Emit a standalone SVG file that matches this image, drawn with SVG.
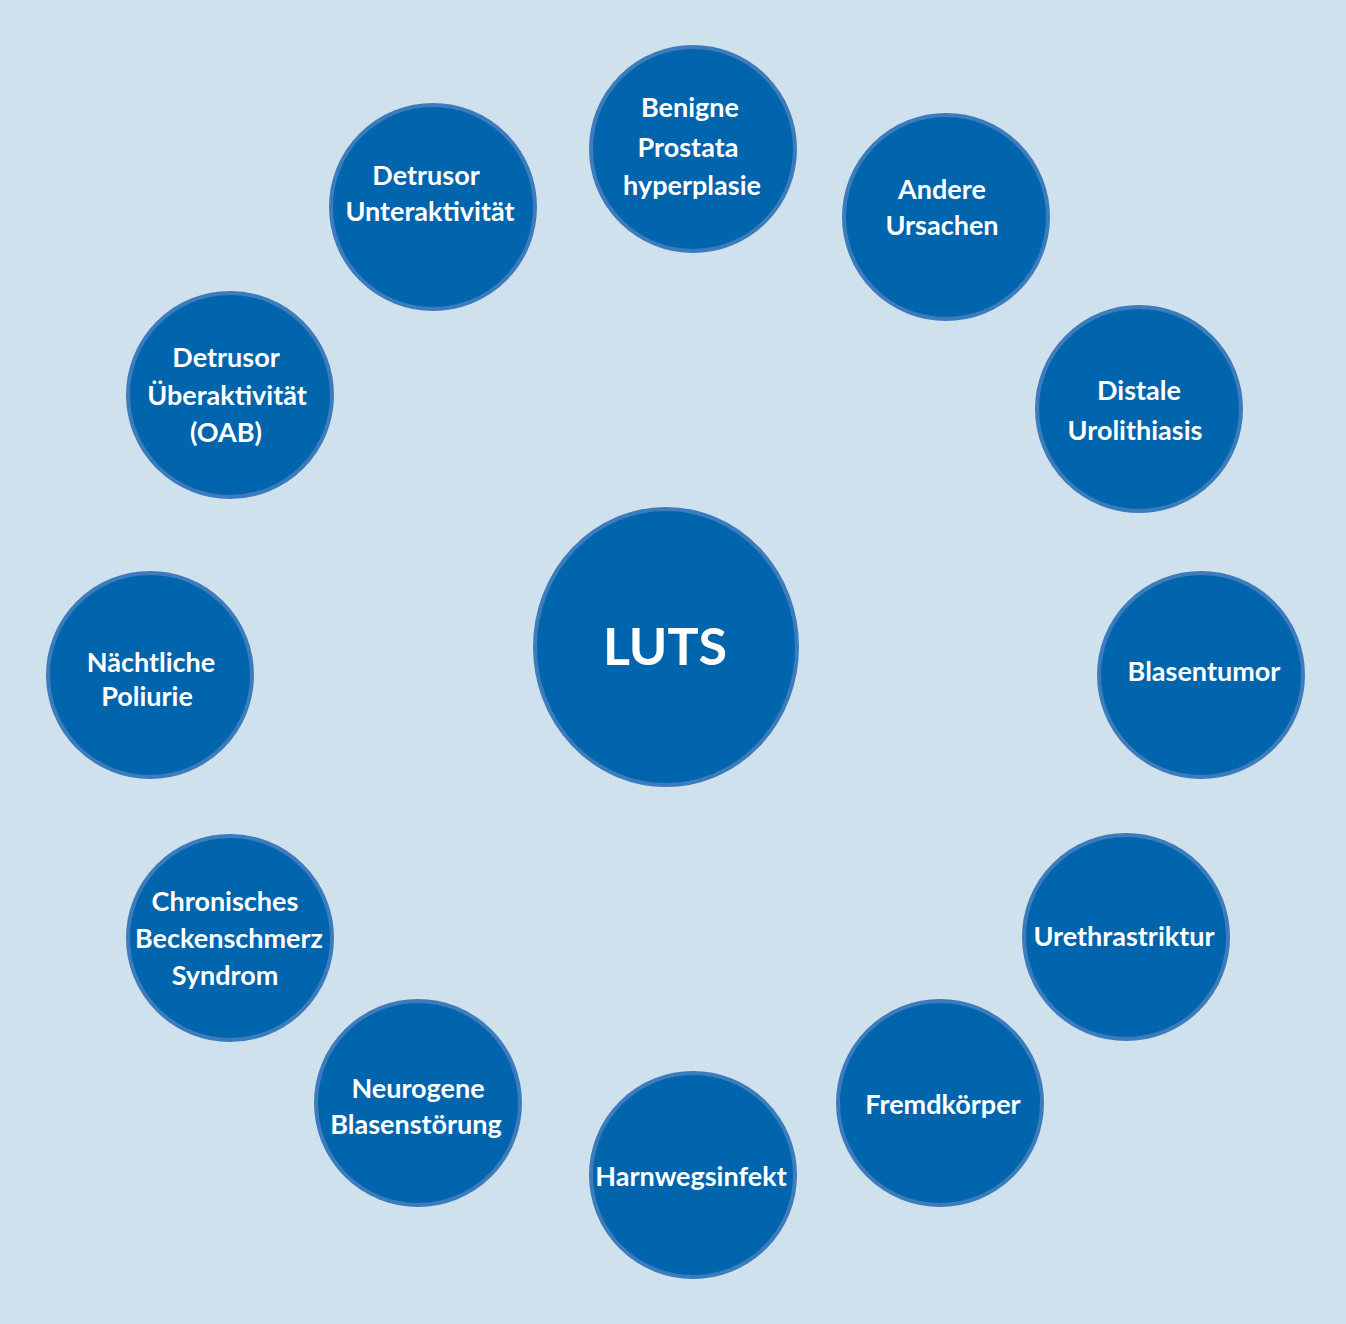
<svg xmlns="http://www.w3.org/2000/svg" width="1346" height="1324" viewBox="0 0 1346 1324">
<style>
.n{fill:#0065ad;stroke:#3d7cbc;stroke-width:4}
.t{fill:#ffffff;font-family:Lato,"Open Sans","Liberation Sans",sans-serif;font-weight:bold;font-size:27px;text-anchor:middle}
.big{font-size:52px}
</style>
<rect x="0" y="0" width="1346" height="1324" fill="#cfe1ed"/>
<g id="connectors"></g>
<g id="luts"><ellipse class="n" cx="666" cy="647" rx="131" ry="138"/><text class="t big" x="665" y="665">LUTS</text></g>
<g id="bph"><circle class="n" cx="693" cy="149" r="102"/><text class="t" x="690" y="117">Benigne</text><text class="t" x="688" y="157">Prostata</text><text class="t" x="692" y="195">hyperplasie</text></g>
<g id="andere"><circle class="n" cx="946" cy="217" r="102"/><text class="t" x="942" y="199">Andere</text><text class="t" x="942" y="235">Ursachen</text></g>
<g id="distale"><circle class="n" cx="1139" cy="409" r="102"/><text class="t" x="1139" y="400">Distale</text><text class="t" x="1135" y="440">Urolithiasis</text></g>
<g id="blasentumor"><circle class="n" cx="1201" cy="675" r="102"/><text class="t" x="1204" y="681">Blasentumor</text></g>
<g id="urethra"><circle class="n" cx="1126" cy="937" r="102"/><text class="t" x="1124" y="946">Urethrastriktur</text></g>
<g id="fremd"><circle class="n" cx="940" cy="1103" r="102"/><text class="t" x="943" y="1114">Fremdkörper</text></g>
<g id="harnweg"><circle class="n" cx="693" cy="1175" r="102"/><text class="t" x="691" y="1186">Harnwegsinfekt</text></g>
<g id="neurogen"><circle class="n" cx="418" cy="1103" r="102"/><text class="t" x="418" y="1098">Neurogene</text><text class="t" x="416" y="1134">Blasenstörung</text></g>
<g id="chronisch"><circle class="n" cx="230" cy="938" r="102"/><text class="t" x="225" y="911">Chronisches</text><text class="t" x="229" y="948">Beckenschmerz</text><text class="t" x="225" y="985">Syndrom</text></g>
<g id="naechtlich"><circle class="n" cx="150" cy="675" r="102"/><text class="t" x="151" y="672">Nächtliche</text><text class="t" x="147" y="706">Poliurie</text></g>
<g id="oab"><circle class="n" cx="230" cy="395" r="102"/><text class="t" x="226" y="367">Detrusor</text><text class="t" x="227" y="405">Überaktivität</text><text class="t" x="226" y="442">(OAB)</text></g>
<g id="unter"><circle class="n" cx="433" cy="207" r="102"/><text class="t" x="426" y="185">Detrusor</text><text class="t" x="430" y="221">Unteraktivität</text></g>
</svg>
